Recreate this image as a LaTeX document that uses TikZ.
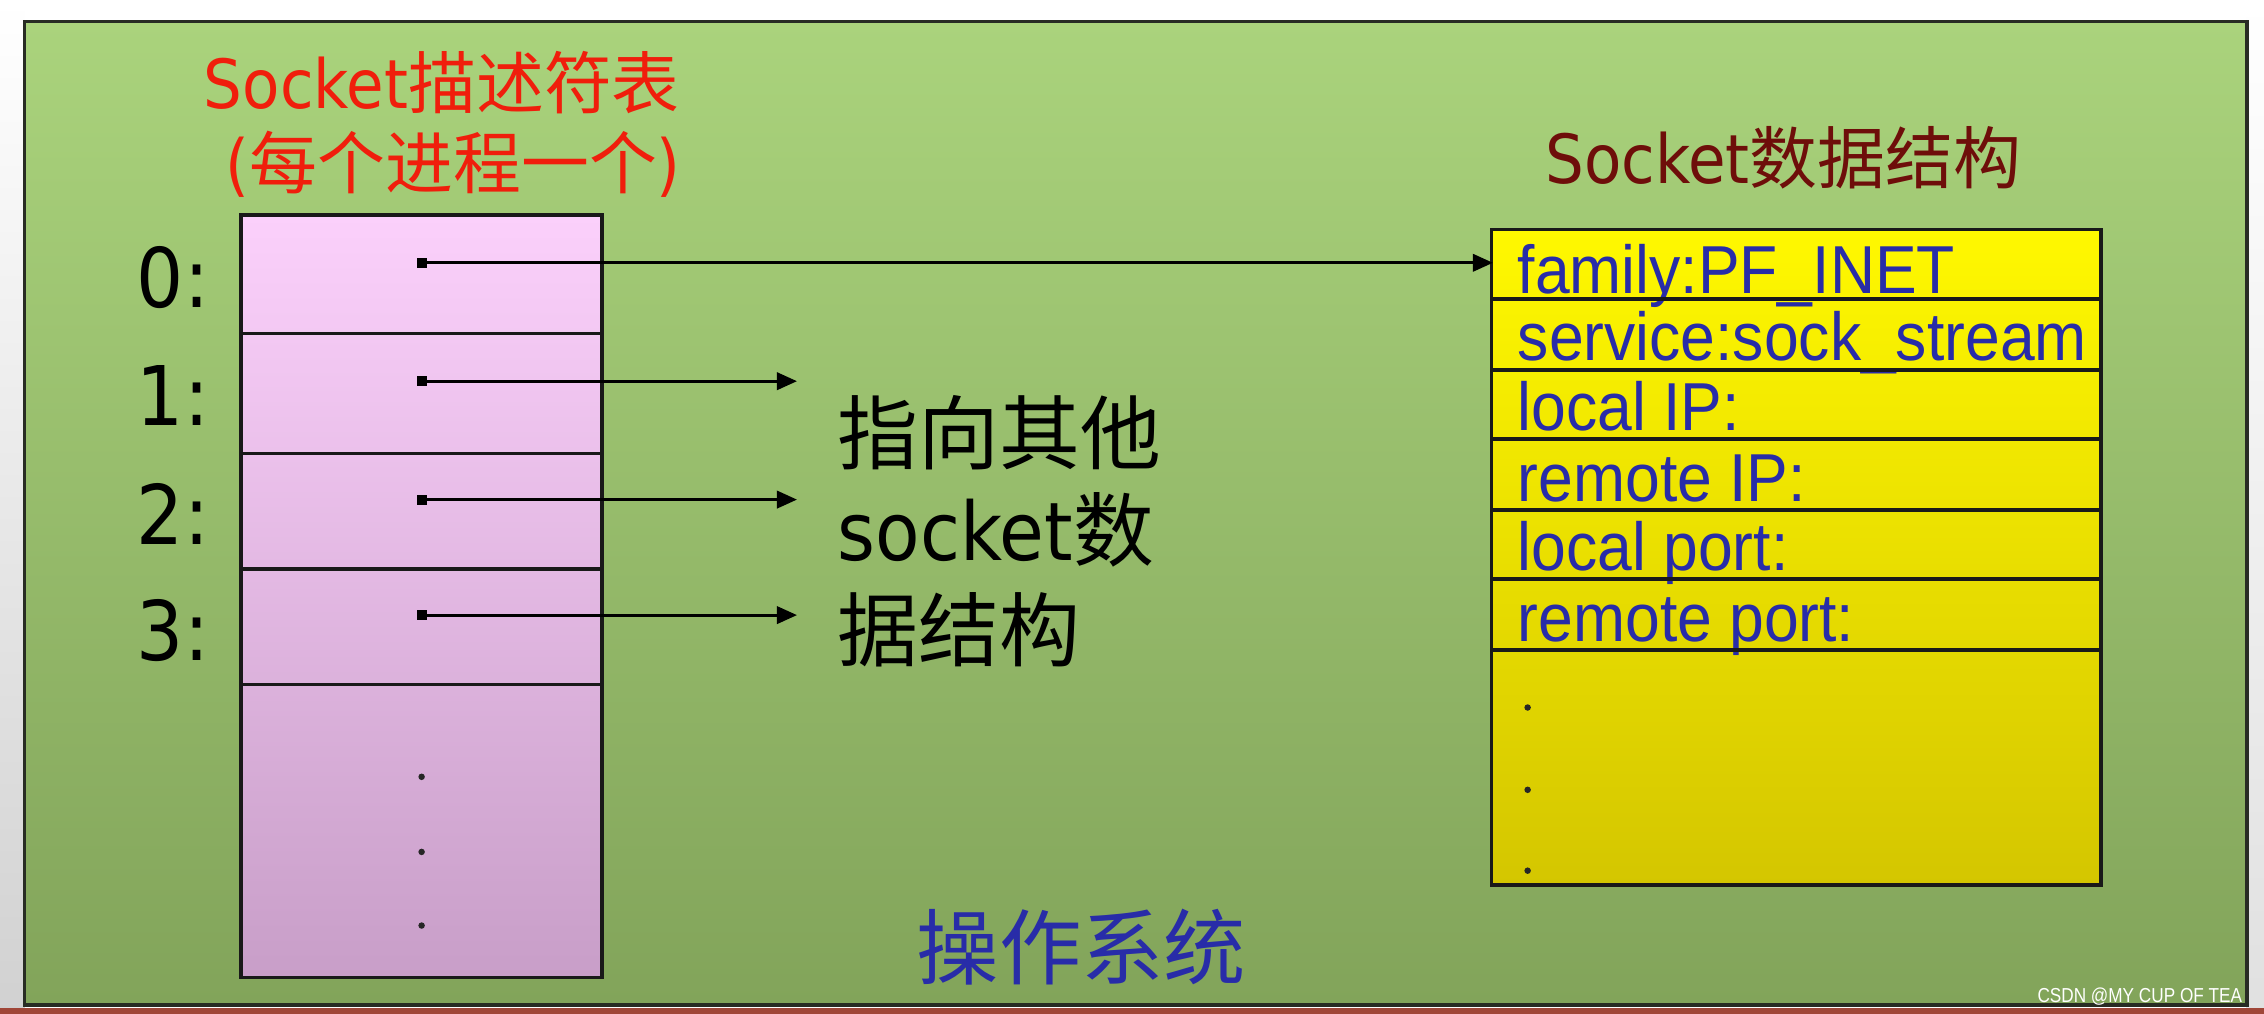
\documentclass[tikz,border=0pt]{standalone}
\usepackage{fontspec}
\usetikzlibrary{arrows.meta}
\newfontfamily\cjk{Noto Sans CJK SC}
\newfontfamily\lat[FakeStretch=0.9]{DejaVu Sans}
\newfontfamily\ari[FakeStretch=0.92]{Liberation Sans}
\newfontfamily\wmf[FakeStretch=0.85]{Liberation Sans}
\newcommand{\fsz}[1]{\fontsize{#1}{#1}\selectfont}
\definecolor{gT}{RGB}{170,211,124}
\definecolor{gB}{RGB}{130,164,90}
\definecolor{pT}{RGB}{251,208,251}
\definecolor{pB}{RGB}{200,158,200}
\definecolor{yT}{RGB}{255,248,0}
\definecolor{yB}{RGB}{212,198,0}
\definecolor{titred}{RGB}{240,30,12}
\definecolor{titmar}{RGB}{110,14,10}
\definecolor{txtblue}{RGB}{40,44,168}
\definecolor{framec}{RGB}{40,44,36}
\definecolor{stripe}{RGB}{160,70,56}
\tikzset{
  tline/.style={line width=2.6pt, draw=black!90},
  arr/.style={line width=2.2pt, -{Triangle[length=14pt,width=12pt]}},
  dotsq/.style={rectangle, fill=black, inner sep=0pt, minimum size=7pt},
  smalldot/.style={circle, fill=black!85, inner sep=0pt, minimum size=4.5pt},
  lbl/.style={inner sep=0pt},
  field/.style={inner sep=0pt, anchor=base west, text=txtblue, font=\ari\fsz{47}},
}
\begin{document}
\begin{tikzpicture}[x=1pt,y=-1pt]
\useasboundingbox (0,0) rectangle (1568,702);
% background and margins
\fill[white] (0,0) rectangle (1568,702);
\shade[top color=white, bottom color=black!18] (0,0) rectangle (17,702);
\shade[top color=white, bottom color=black!12] (1556,0) rectangle (1568,702);
\fill[stripe] (0,698) rectangle (1568,702);
% frame
\shade[top color=gT, bottom color=gB] (17,15) rectangle (1556,696);
\draw[line width=2.5pt, draw=framec] (17,15) rectangle (1556,696);

% left titles
\node[lbl, text=titred] (t1) at (306,57) {\fsz{47}{\lat Socket}{\cjk 描述符表}};
\node[lbl, text=titred] (t2) at (314,114) {\fsz{47}{\lat (}{\cjk 每个进程一个}{\lat )}};

% pink descriptor table
\shade[top color=pT, bottom color=pB] (167,149) rectangle (417,677);
\draw[tline] (167,149) rectangle (417,677);
\draw[tline] (167,231) -- (417,231);
\draw[tline] (167,314) -- (417,314);
\draw[tline] (167,394) -- (417,394);
\draw[tline] (167,474) -- (417,474);

% index labels
\node[lbl, anchor=east] (n0) at (145,192) {\fsz{57}\lat 0:};
\node[lbl, anchor=east] (n1) at (145,274) {\fsz{57}\lat 1:};
\node[lbl, anchor=east] (n2) at (145,356) {\fsz{57}\lat 2:};
\node[lbl, anchor=east] (n3) at (145,437) {\fsz{57}\lat 3:};

% pointer dots
\node[dotsq] (d0) at (292,182) {};
\node[dotsq] (d1) at (292,264) {};
\node[dotsq] (d2) at (292,346) {};
\node[dotsq] (d3) at (292,426) {};
\node[smalldot] (p1) at (292,538) {};
\node[smalldot] (p2) at (292,590) {};
\node[smalldot] (p3) at (292,641) {};

% arrow ends
\coordinate (a0) at (1034,182);
\coordinate (e1) at (552,264);
\coordinate (e2) at (552,346);
\coordinate (e3) at (552,426);

% middle text
\node[lbl, anchor=west] (m1) at (580,300) {\fsz{56}\cjk 指向其他};
\node[lbl, anchor=base west] (m2) at (580,388) {\fsz{56}{\lat socket}{\cjk 数}};
\node[lbl, anchor=west] (m3) at (580,436) {\fsz{56}\cjk 据结构};

% right title
\node[lbl, text=titmar] (t3) at (1235,109) {\fsz{47}{\lat Socket}{\cjk 数据结构}};

% yellow socket structure
\shade[top color=yT, bottom color=yB] (1033,159) rectangle (1455,613);
\node[field] (f0) at (1051,203) {family:PF\_INET};
\node[field] (f1) at (1051,250) {service:sock\_stream};
\node[field] (f2) at (1051,298) {local IP:};
\node[field] (f3) at (1051,347) {remote IP:};
\node[field] (f4) at (1051,395) {local port:};
\node[field] (f5) at (1051,444) {remote port:};
\draw[tline] (1033,159) rectangle (1455,613);
\draw[tline] (1033,207) -- (1455,207);
\draw[tline] (1033,256) -- (1455,256);
\draw[tline] (1033,304) -- (1455,304);
\draw[tline] (1033,353) -- (1455,353);
\draw[tline] (1033,401) -- (1455,401);
\draw[tline] (1033,450) -- (1455,450);
\node[smalldot] (q1) at (1058,490) {};
\node[smalldot] (q2) at (1058,547) {};
\node[smalldot] (q3) at (1058,603) {};

% arrows
\draw[arr] (d0.center) -- (a0);
\draw[arr] (d1.center) -- (e1);
\draw[arr] (d2.center) -- (e2);
\draw[arr] (d3.center) -- (e3);

% OS label
\node[lbl, text=txtblue] (os) at (749,656) {\fsz{57}\cjk 操作系统};

% watermark
\node[lbl, anchor=east, text=white] (wm) at (1553,690) {\wmf\fsz{14}CSDN @MY CUP OF TEA};
\end{tikzpicture}
\end{document}
